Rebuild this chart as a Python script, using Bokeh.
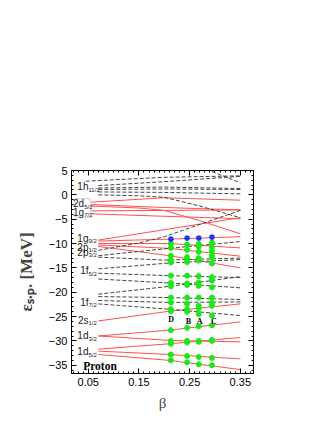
from bokeh.plotting import figure
from bokeh.models import FixedTicker, LinearAxis, BoxAnnotation, CustomJSTickFormatter, Range1d
from bokeh.core.properties import value
from bokeh.embed import file_html
from bokeh.resources import INLINE

# ---- positive-parity (red, solid) single-particle levels: beta nodes and energies (MeV)
pos_beta = [
    [0.07, 0.21, 0.35], [0.07, 0.21, 0.35], [0.07, 0.21, 0.35],          # 1d5/2
    [0.07, 0.21, 0.35], [0.07, 0.21, 0.35],                              # 1d3/2
    [0.07, 0.21, 0.35],                                                  # 2s1/2
    [0.07, 0.21, 0.35], [0.07, 0.21, 0.35], [0.07, 0.21, 0.35],
    [0.07, 0.21, 0.35], [0.07, 0.21, 0.35],                              # 1g9/2
    [0.056, 0.2, 0.35], [0.056, 0.2, 0.35], [0.056, 0.15, 0.2, 0.27, 0.35],
    [0.056, 0.2, 0.35], [0.056, 0.2, 0.35],                              # 2d5/2, 1g7/2
]
pos_energy = [
    [-32.8, -34.0, -35.9], [-32.1, -32.8, -33.7], [-31.7, -30.6, -29.3],
    [-29.0, -29.9, -30.2], [-29.0, -27.8, -26.1],
    [-25.9, -23.9, -22.4],
    [-10.6, -12.5, -15.0], [-10.3, -11.0, -12.6], [-10.0, -10.0, -10.9],
    [-9.5, -9.1, -8.6], [-9.3, -7.0, -4.7],
    [-1.5, -0.6, -1.1], [-2.0, -2.6, -3.1], [-2.3, -2.7, -3.2, -5.3, -8.0],
    [-3.3, -3.2, -3.1], [-3.9, -4.4, -4.9],
]

# ---- negative-parity (black, dashed) levels
neg_beta = [
    [0.045, 0.2, 0.35], [0.25, 0.35],
    [0.07, 0.2, 0.35], [0.07, 0.2, 0.35], [0.07, 0.2, 0.35], [0.07, 0.2, 0.35],
    [0.07, 0.15, 0.2, 0.27, 0.35],                                       # 1h11/2
    [0.07, 0.15, 0.2, 0.35], [0.07, 0.2, 0.35], [0.07, 0.2, 0.35],       # 2p
    [0.07, 0.21, 0.35], [0.07, 0.21, 0.35], [0.07, 0.21, 0.35],          # 1f5/2
    [0.07, 0.21, 0.35], [0.07, 0.21, 0.35], [0.07, 0.21, 0.35], [0.07, 0.21, 0.35],  # 1f7/2
]
neg_energy = [
    [2.8, 3.6, 3.9], [6.6, 2.5],
    [1.9, 2.7, 3.8], [1.4, 1.6, 1.3], [1.1, 1.2, 1.1], [0.6, 0.5, 0.2],
    [0.0, -0.2, -0.5, -2.3, -4.7],
    [-11.4, -9.9, -8.6, -3.2], [-12.5, -11.1, -9.6], [-12.8, -13.4, -13.0],
    [-15.2, -14.0, -13.3], [-16.1, -16.6, -17.0], [-17.3, -18.1, -19.1],
    [-20.4, -18.8, -16.8], [-20.9, -21.1, -21.5], [-21.7, -22.1, -22.0], [-22.4, -23.5, -24.8],
]

# ---- occupied levels at the four deformations D, B, A, C
point_names = ["D", "B", "A", "C"]
point_beta = [0.213, 0.245, 0.268, 0.294]
occ_D = [-10.0, -10.9, -12.5, -13.4, -13.9, -16.6, -18.1, -18.8, -21.1, -22.1,
         -23.5, -23.9, -27.8, -30.0, -30.6, -32.8, -34.0]
occ_B = [-10.2, -11.3, -12.8, -13.4, -13.8, -16.6, -18.2, -18.5, -21.1, -22.4,
         -23.5, -24.0, -27.3, -30.0, -30.3, -33.1, -34.4]
occ_A = [-10.1, -10.6, -11.7, -13.0, -13.5, -16.7, -18.0, -18.7, -21.1, -22.8,
         -23.3, -24.5, -27.0, -30.0, -30.2, -33.3, -34.8]
occ_C = [-9.8, -10.8, -11.6, -12.4, -12.9, -14.1, -16.9, -17.6, -19.0, -21.1,
         -22.2, -22.8, -24.8, -26.8, -29.8, -30.0, -33.5, -35.0]
last_level = [-9.1, -8.9, -8.9, -8.7]

# ---- spherical level labels
label_main = ["1h", "1g", "2p", "2p", "1f", "1f", "2s", "1d", "1d"]
label_sub = ["11/2", "9/2", "1/2", "3/2", "5/2", "7/2", "1/2", "3/2", "5/2"]
label_E = [1.7, -8.9, -10.8, -11.8, -15.6, -22.1, -25.8, -28.9, -32.2]
box_main = ["2d", "1g"]
box_sub = ["5/2", "7/2"]
box_E = [-1.8, -3.6]

x_ticks = [0.05, 0.15, 0.25, 0.35]
x_minor = [round(0.02 + 0.01 * i, 2) for i in range(36)]
y_ticks = [5, 0, -5, -10, -15, -20, -25, -30, -35]
y_minor = list(range(-36, 6))

p = figure(width=319, height=415, output_backend="svg", toolbar_location=None,
           x_range=Range1d(0.017, 0.376), y_range=Range1d(-36.7, 5),
           min_border_left=71, min_border_right=66, min_border_top=170, min_border_bottom=42)
p.grid.visible = False
p.outline_line_color = "black"
p.background_fill_color = "white"

neg_fmt = CustomJSTickFormatter(code="return tick < 0 ? '\u2212' + Math.abs(tick) : tick.toString();")
blank_fmt = CustomJSTickFormatter(code="return '';")

def style_axis(ax):
    ax.major_tick_in = 5
    ax.major_tick_out = 0
    ax.minor_tick_in = 2
    ax.minor_tick_out = 0
    ax.axis_line_color = "black"
    ax.major_tick_line_color = "black"
    ax.minor_tick_line_color = "black"
    ax.major_label_text_font = "Liberation Sans"
    ax.major_label_text_font_size = "11px"
    ax.major_label_text_color = "black"
    ax.major_label_standoff = 4

p.xaxis.ticker = FixedTicker(ticks=x_ticks, minor_ticks=x_minor)
p.yaxis.ticker = FixedTicker(ticks=y_ticks, minor_ticks=y_minor)
p.yaxis.formatter = neg_fmt
style_axis(p.xaxis[0])
style_axis(p.yaxis[0])
p.xaxis.axis_label = "β"
p.xaxis.axis_label_text_font = "Liberation Serif"
p.xaxis.axis_label_text_font_style = "normal"
p.xaxis.axis_label_text_font_size = "15px"
p.xaxis.axis_label_standoff = 6
p.yaxis.axis_label = "ε\u209b.\u209a. [MeV]"
p.yaxis.axis_label_text_font = "Liberation Serif"
p.yaxis.axis_label_text_font_style = "bold"
p.yaxis.axis_label_text_font_size = "17px"
p.yaxis.axis_label_standoff = 10

top = LinearAxis(ticker=FixedTicker(ticks=x_ticks, minor_ticks=x_minor), formatter=blank_fmt)
right = LinearAxis(ticker=FixedTicker(ticks=y_ticks, minor_ticks=y_minor), formatter=blank_fmt)
style_axis(top)
style_axis(right)
p.add_layout(top, "above")
p.add_layout(right, "right")

p.multi_line(xs=pos_beta, ys=pos_energy, line_color="#ff5050", line_width=1)
p.multi_line(xs=neg_beta, ys=neg_energy, line_color="#454545", line_width=1, line_dash="4 2")

occ_all = [occ_D, occ_B, occ_A, occ_C]
for b, occ in zip(point_beta, occ_all):
    p.scatter(x=[b] * len(occ), y=occ, marker="circle", size=5,
              fill_color="#11ee11", line_color="#11ee11")
p.scatter(x=point_beta, y=last_level, marker="asterisk", size=6, line_color="#2233ff", line_width=1.5)
p.scatter(x=point_beta, y=last_level, marker="circle", size=3.5, fill_color="#2233ff", line_color="#2233ff")

p.text(x=[0.2135, 0.2475, 0.27, 0.298], y=[-25.7, -26.0, -26.0, -26.1], text=point_names,
       text_align="center", text_baseline="middle", text_font=value("Liberation Serif"),
       text_font_style="bold", text_font_size="8px", text_color="black")

p.text(x=[0.0505] * len(label_main), y=label_E, text=label_main, text_align="right",
       text_baseline="middle", text_font=value("Liberation Sans"), text_font_size="10px",
       text_color="#222222")
p.text(x=[0.0505] * len(label_sub), y=label_E, text=label_sub, text_align="left",
       text_baseline="middle", y_offset=3, text_font=value("Liberation Sans"),
       text_font_size="6px", text_color="#222222")
p.text(x=[0.042] * 2, y=box_E, text=box_main, text_align="right", text_baseline="middle",
       text_font=value("Liberation Sans"), text_font_size="10px", text_color="#222222")
p.text(x=[0.042] * 2, y=box_E, text=box_sub, text_align="left", text_baseline="middle",
       y_offset=3, text_font=value("Liberation Sans"), text_font_size="6px", text_color="#222222")
p.add_layout(BoxAnnotation(left=0.0245, right=0.054, top=-0.8, bottom=-4.6,
                           fill_alpha=0, line_color="#555555", line_width=1))

p.text(x=[0.04], y=[-35.1], text=["Proton"], text_align="left", text_baseline="middle",
       text_font=value("Liberation Serif"), text_font_style="bold", text_font_size="11.5px",
       text_color="black")

open("out.html", "w").write(file_html(p, INLINE))
